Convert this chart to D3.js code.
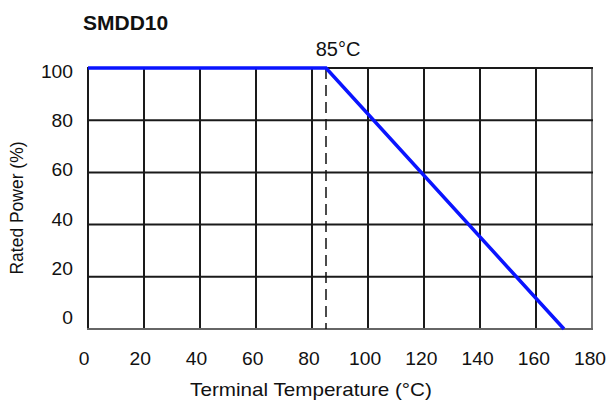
<!doctype html>
<html>
  <head>
    <meta charset="utf-8">
    <title>SMDD10 derating curve</title>
    <script src="https://cdnjs.cloudflare.com/ajax/libs/d3/7.8.5/d3.min.js"></script>
    <style>
      body { margin: 0; background: #fff; }
      text { font-family: "Liberation Sans", Arial, Helvetica, sans-serif; fill: #111; }
    </style>
  </head>
  <body>
    <div id="chart"></div>
    <script>

      // data
      const title = 'SMDD10';
      const tempTicks = [0, 20, 40, 60, 80, 100, 120, 140, 160, 180];
      const powerTicks = [0, 20, 40, 60, 80, 100];
      const curveTemp = [0, 85, 170];
      const curvePower = [100, 100, 0];
      const kneeTemp = 85;
      const kneeLabel = '85°C';

      const width = 609, height = 403;

      const svg = d3.select('#chart')
        .append('svg')
        .attr('width', width)
        .attr('height', height);

      // grid scales
      const x = d3.scaleLinear().domain([0, 180]).range([88, 592]);
      const y = d3.scaleLinear().domain([0, 100]).range([329, 68]);
      // the tick labels sit a little off the grid in the original
      const xLab = d3.scaleLinear().domain([0, 180]).range([84, 590]);
      const yLab = d3.scaleLinear().domain([0, 100]).range([318, 72]);

      // grid
      svg.append('g')
        .selectAll('line')
        .data(tempTicks)
        .join('line')
        .attr('x1', d => x(d))
        .attr('x2', d => x(d))
        .attr('y1', y(0))
        .attr('y2', y(100))
        .attr('stroke', d => d == 180 ? '#777' : '#1a1a1a')
        .attr('stroke-width', 2);

      svg.append('g')
        .selectAll('line')
        .data(powerTicks)
        .join('line')
        .attr('x1', x(0) - 1)
        .attr('x2', x(180) + 1)
        .attr('y1', d => y(d))
        .attr('y2', d => y(d))
        .attr('stroke', d => d == 0 ? '#666' : '#1a1a1a')
        .attr('stroke-width', 2);

      // dashed line at the knee
      svg.append('line')
        .attr('x1', x(kneeTemp))
        .attr('x2', x(kneeTemp))
        .attr('y1', y(100))
        .attr('y2', y(0))
        .attr('stroke', '#111')
        .attr('stroke-width', 1.5)
        .attr('stroke-dasharray', '11,6');

      // derating curve
      const curve = curveTemp.map((t, i) => [t, curvePower[i]]);
      svg.append('path')
        .datum(curve)
        .attr('fill', 'none')
        .attr('stroke', '#0a14ff')
        .attr('stroke-width', 3.5)
        .attr('d', d3.line().x(d => x(d[0])).y(d => y(d[1])));

      // stretched text helper, the chart image was widened a bit
      const label = function(txt, px, py, size, sx, anchor) {
        return svg.append('text')
          .attr('transform', 'translate(' + px + ',' + py + ') scale(' + sx + ',1)')
          .attr('text-anchor', anchor)
          .style('font-size', size + 'px')
          .text(txt);
      }

      // tick labels
      tempTicks.forEach(d => label(d, xLab(d), 365, 17.5, 1.1, 'middle'));
      powerTicks.forEach(d => label(d, 73, yLab(d) + 6, 17.5, 1.1, 'end'));

      // axis titles
      label('Terminal Temperature (°C)', 311, 396, 17.5, 1.18, 'middle');
      svg.append('text')
        .attr('transform', 'translate(23,208) rotate(-90) scale(1,1.1)')
        .attr('text-anchor', 'middle')
        .style('font-size', '17.5px')
        .text('Rated Power (%)');

      // title and knee label
      label(title, 83, 30, 21, 1, 'start').style('font-weight', 'bold');
      label(kneeLabel, 338, 56, 20, 1, 'middle');

    </script>
  </body>
</html>
